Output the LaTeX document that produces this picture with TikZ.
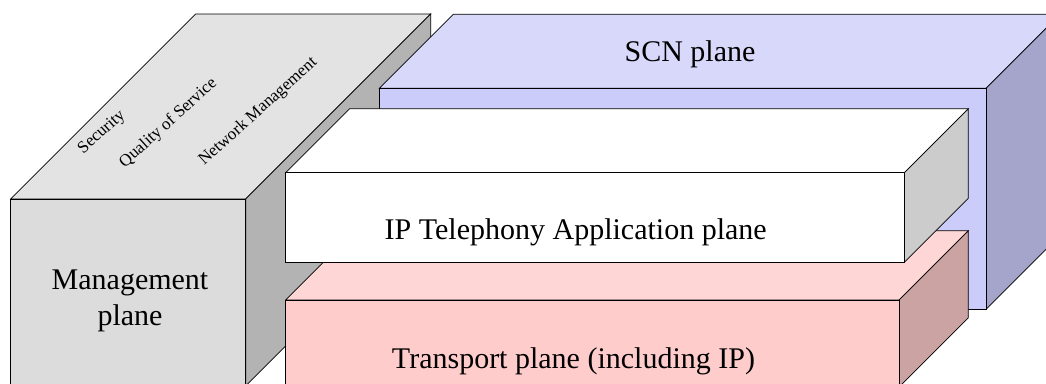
\documentclass[tikz,border=0pt]{standalone}
\usepackage{fontspec}
\setmainfont{Liberation Serif}
\definecolor{mgFront}{RGB}{220,220,220}
\definecolor{mgTop}{RGB}{227,227,227}
\definecolor{mgSide}{RGB}{179,179,179}
\definecolor{scnFront}{RGB}{204,204,250}
\definecolor{scnTop}{RGB}{216,216,250}
\definecolor{scnSide}{RGB}{165,165,204}
\definecolor{apSide}{RGB}{204,204,204}
\definecolor{trFront}{RGB}{255,204,204}
\definecolor{trTop}{RGB}{255,214,214}
\definecolor{trSide}{RGB}{204,163,163}
\tikzset{
  face/.style={draw=black, line width=0.7pt, line join=miter},
  bigtxt/.style={font=\fontsize{30}{36.7}\selectfont, inner sep=0pt},
  smalltxt/.style={font=\fontsize{17}{20}\selectfont, inner sep=0pt, rotate=42},
}
\begin{document}
\begin{tikzpicture}[x=1pt,y=-1pt]
\useasboundingbox (0,0) rectangle (1046,383);
\clip (0,0) rectangle (1046,383);
% Management box
\draw[face,fill=mgTop] (10.7,199) -- (245.7,199) -- (430.7,14) -- (195.7,14) -- cycle;
\draw[face,fill=mgSide] (245.7,199) -- (430.7,14) -- (430.7,201) -- (245.7,386) -- cycle;
\draw[face,fill=mgFront] (10.7,199) rectangle (245.7,386);
% SCN box
\draw[face,fill=scnTop] (379.3,88.3) -- (986,88.3) -- (1060,14.3) -- (453.3,14.3) -- cycle;
\draw[face,fill=scnSide] (986,88.3) -- (1060,14.3) -- (1060,235.3) -- (986,309.3) -- cycle;
\draw[face,fill=scnFront] (379.3,88.3) rectangle (986,309.3);
% Transport box
\draw[face,fill=trTop] (285.7,300) -- (899,300) -- (968.3,230.7) -- (355,230.7) -- cycle;
\draw[face,fill=trSide] (899,300) -- (968.3,230.7) -- (968.3,317.7) -- (899,387) -- cycle;
\draw[face,fill=trFront] (285.7,300) rectangle (899,387);
% IP Telephony Application box
\draw[face,fill=white] (285.7,172.7) -- (904.3,172.7) -- (968.3,108.7) -- (349.7,108.7) -- cycle;
\draw[face,fill=apSide] (904.3,172.7) -- (968.3,108.7) -- (968.3,198.3) -- (904.3,262.3) -- cycle;
\draw[face,fill=white] (285.7,172.7) rectangle (904.3,262.3);
% labels
\node[bigtxt,anchor=base] (scn) at (690,61) {SCN plane};
\node[bigtxt,anchor=base] (app) at (575.7,239.3) {IP Telephony Application plane};
\node[bigtxt,anchor=base] (trp) at (573.5,368) {Transport plane (including IP)};
\node[bigtxt,align=center] (mgt) at (130,301) {Management\\plane};
\node[smalltxt] (sec) at (102,132.5) {Security};
\node[smalltxt] (qos) at (168.3,123.3) {Quality of Service};
\node[smalltxt] (nwm) at (258.3,111.7) {Network Management};
\end{tikzpicture}
\end{document}
